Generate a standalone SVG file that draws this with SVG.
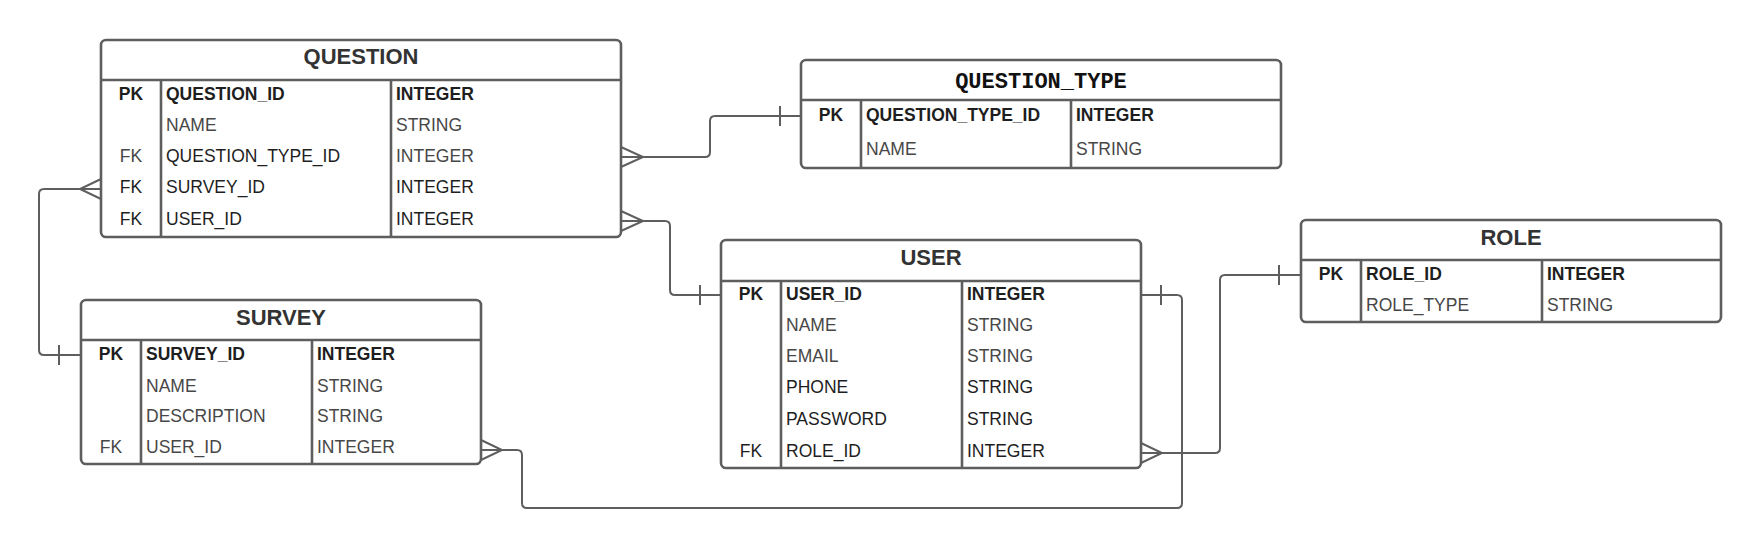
<svg xmlns="http://www.w3.org/2000/svg" width="1762" height="549" viewBox="0 0 1762 549">
<style>
.box{fill:#fff;stroke:#5e5e5e;stroke-width:2.6}
.ln{stroke:#5e5e5e;stroke-width:2.6;fill:none}
.cn{stroke:#5e5e5e;stroke-width:2;fill:none}
.title{font-family:"Liberation Sans",Arial,sans-serif;font-weight:bold;font-size:22px;fill:#333;text-anchor:middle}
.mono{font-family:"Liberation Mono","Courier New",monospace;font-weight:bold;font-size:22px;fill:#111;text-anchor:middle}
.r{font-family:"Liberation Sans",Arial,sans-serif;font-size:17.5px}
.b{font-weight:bold}
.k{fill:#1e1e1e}
.g{fill:#474747}
.c{text-anchor:middle}
</style>
<rect width="1762" height="549" fill="#fff"/>

<g id="connectors">
  <!-- QUESTION -> QUESTION_TYPE -->
  <path class="cn" d="M621,157 H705 Q710,157 710,152 V121 Q710,116 715,116 H801"/>
  <path class="cn" d="M621,147 L643,157 L621,167"/>
  <path class="cn" d="M780,106 V126"/>
  <!-- QUESTION -> USER -->
  <path class="cn" d="M621,221 H665 Q670,221 670,226 V290 Q670,295 675,295 H721"/>
  <path class="cn" d="M621,211 L643,221 L621,231"/>
  <path class="cn" d="M700,285 V305"/>
  <!-- QUESTION -> SURVEY -->
  <path class="cn" d="M101,189 H44 Q39,189 39,194 V350 Q39,355 44,355 H81"/>
  <path class="cn" d="M101,179 L80,189 L101,199"/>
  <path class="cn" d="M59,345 V365"/>
  <!-- SURVEY -> USER -->
  <path class="cn" d="M481,450 H517 Q522,450 522,455 V503 Q522,508 527,508 H1177 Q1182,508 1182,503 V300 Q1182,295 1177,295 H1141"/>
  <path class="cn" d="M481,440 L502,450 L481,460"/>
  <path class="cn" d="M1161,285 V305"/>
  <!-- USER -> ROLE -->
  <path class="cn" d="M1141,453 H1215 Q1220,453 1220,448 V280 Q1220,275 1225,275 H1301"/>
  <path class="cn" d="M1141,443 L1162,453 L1141,463"/>
  <path class="cn" d="M1279,265 V285"/>
</g>

<g id="question">
  <rect class="box" x="101" y="40" width="520" height="197" rx="5"/>
  <path class="ln" d="M101,80 H621 M161,80 V237 M391,80 V237"/>
  <text class="title" x="361" y="64">QUESTION</text>
  <text class="r b k c" x="131" y="100">PK</text>
  <text class="r b k" x="166" y="100">QUESTION_ID</text>
  <text class="r b k" x="396" y="100">INTEGER</text>
  <text class="r g" x="166" y="131">NAME</text>
  <text class="r g" x="396" y="131">STRING</text>
  <text class="r g c" x="131" y="162">FK</text>
  <text class="r k" x="166" y="162">QUESTION_TYPE_ID</text>
  <text class="r g" x="396" y="162">INTEGER</text>
  <text class="r k c" x="131" y="193">FK</text>
  <text class="r k" x="166" y="193">SURVEY_ID</text>
  <text class="r k" x="396" y="193">INTEGER</text>
  <text class="r k c" x="131" y="225">FK</text>
  <text class="r k" x="166" y="225">USER_ID</text>
  <text class="r k" x="396" y="225">INTEGER</text>
</g>

<g id="question_type">
  <rect class="box" x="801" y="60" width="480" height="108" rx="5"/>
  <path class="ln" d="M801,100 H1281 M861,100 V168 M1071,100 V168"/>
  <text class="mono" x="1041" y="88">QUESTION_TYPE</text>
  <text class="r b k c" x="831" y="121">PK</text>
  <text class="r b k" x="866" y="121">QUESTION_TYPE_ID</text>
  <text class="r b k" x="1076" y="121">INTEGER</text>
  <text class="r g" x="866" y="155">NAME</text>
  <text class="r g" x="1076" y="155">STRING</text>
</g>

<g id="survey">
  <rect class="box" x="81" y="300" width="400" height="164" rx="5"/>
  <path class="ln" d="M81,340 H481 M141,340 V464 M312,340 V464"/>
  <text class="title" x="281" y="324.5">SURVEY</text>
  <text class="r b k c" x="111" y="360">PK</text>
  <text class="r b k" x="146" y="360">SURVEY_ID</text>
  <text class="r b k" x="317" y="360">INTEGER</text>
  <text class="r g" x="146" y="392">NAME</text>
  <text class="r g" x="317" y="392">STRING</text>
  <text class="r g" x="146" y="422">DESCRIPTION</text>
  <text class="r g" x="317" y="422">STRING</text>
  <text class="r g c" x="111" y="453">FK</text>
  <text class="r g" x="146" y="453">USER_ID</text>
  <text class="r g" x="317" y="453">INTEGER</text>
</g>

<g id="user">
  <rect class="box" x="721" y="240" width="420" height="228" rx="5"/>
  <path class="ln" d="M721,281 H1141 M781,281 V468 M962,281 V468"/>
  <text class="title" x="931" y="265">USER</text>
  <text class="r b k c" x="751" y="300">PK</text>
  <text class="r b k" x="786" y="300">USER_ID</text>
  <text class="r b k" x="967" y="300">INTEGER</text>
  <text class="r g" x="786" y="331">NAME</text>
  <text class="r g" x="967" y="331">STRING</text>
  <text class="r g" x="786" y="361.5">EMAIL</text>
  <text class="r g" x="967" y="361.5">STRING</text>
  <text class="r k" x="786" y="392.5">PHONE</text>
  <text class="r k" x="967" y="392.5">STRING</text>
  <text class="r k" x="786" y="424.5">PASSWORD</text>
  <text class="r k" x="967" y="424.5">STRING</text>
  <text class="r k c" x="751" y="456.5">FK</text>
  <text class="r k" x="786" y="456.5">ROLE_ID</text>
  <text class="r k" x="967" y="456.5">INTEGER</text>
</g>

<g id="role">
  <rect class="box" x="1301" y="220" width="420" height="102" rx="5"/>
  <path class="ln" d="M1301,260 H1721 M1361,260 V322 M1542,260 V322"/>
  <text class="title" x="1511" y="244.5">ROLE</text>
  <text class="r b k c" x="1331" y="280">PK</text>
  <text class="r b k" x="1366" y="280">ROLE_ID</text>
  <text class="r b k" x="1547" y="280">INTEGER</text>
  <text class="r g" x="1366" y="311">ROLE_TYPE</text>
  <text class="r g" x="1547" y="311">STRING</text>
</g>
</svg>
